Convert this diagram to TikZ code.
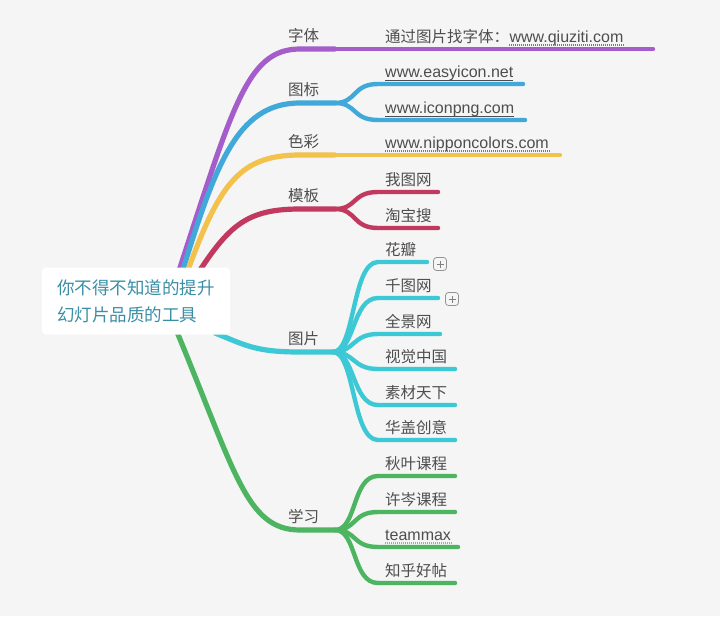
\documentclass[tikz,border=0pt]{standalone}
\usepackage{fontspec}
\setmainfont{Noto Sans CJK SC}
\newfontfamily\latinfont{Liberation Sans}
\definecolor{bgc}{HTML}{F4F5F4}
\definecolor{txt}{HTML}{4E4E4E}
\definecolor{roottxt}{HTML}{3A8FA6}
\definecolor{cpur}{HTML}{A45DCB}
\definecolor{cblu}{HTML}{41A9DA}
\definecolor{cyel}{HTML}{F2C24C}
\definecolor{cred}{HTML}{C1395F}
\definecolor{ccya}{HTML}{3CC8D4}
\definecolor{cgrn}{HTML}{4DB562}
\definecolor{ulred}{HTML}{B8625A}
\definecolor{ulyel}{HTML}{C9A64A}
\newcommand\mkid[5]{%
  \coordinate (#1s) at (378,#4);
  \coordinate (#1e) at (#5,#4);
  \draw[ch,#2] (#3) .. controls +(22,0) and +(-26,0) .. (#1s) -- (#1e);}
\begin{document}
\begin{tikzpicture}[x=1pt,y=-1pt,
  br/.style={line width=5.2pt,line cap=round},
  ch/.style={line width=4.4pt,line cap=round},
  lab/.style={anchor=base west,inner sep=0pt,font=\fontsize{15.5}{18}\selectfont,text=txt},
  url/.style={lab,font=\latinfont\fontsize{16}{18}\selectfont},
  ulsolid/.style={line width=0.9pt,txt},
  uldot/.style={line width=1.1pt,dash pattern=on 1pt off 1pt},
  plusbox/.style={draw=gray!85,line width=0.8pt,rounded corners=3pt,minimum size=13pt,inner sep=0pt,fill=bgc,
    path picture={\draw[gray,line width=0.8pt] ([xshift=-3.5pt]path picture bounding box.center) -- ([xshift=3.5pt]path picture bounding box.center)
      ([yshift=-3.5pt]path picture bounding box.center) -- ([yshift=3.5pt]path picture bounding box.center);}},
  rootbox/.style={fill=white,rounded corners=4pt,minimum width=188pt,minimum height=67pt,align=left,
    font=\fontsize{17.5}{27}\selectfont,text=roottxt}]
\fill[bgc] (0,0) rectangle (720,616);
\useasboundingbox (0,0) rectangle (720,616);

% origins and forks
\coordinate (oA) at (172,292); \coordinate (kA) at (300,49);  \coordinate (fA) at (335,49);
\coordinate (oB) at (176,292); \coordinate (kB) at (300,103); \coordinate (fB) at (335,103);
\coordinate (oC) at (180,292); \coordinate (kC) at (300,155); \coordinate (fC) at (335,155);
\coordinate (oD) at (184,295); \coordinate (kD) at (300,209); \coordinate (fD) at (335,209);
\coordinate (oE) at (215,333); \coordinate (kE) at (300,352); \coordinate (fE) at (333,352);
\coordinate (oF) at (172,320); \coordinate (kF) at (300,530); \coordinate (fF) at (335,530);

% level-1 branches
\draw[br,cpur] (oA) .. controls (232,110) and (245,49) .. (kA) -- (fA);
\draw[br,cblu] (oB) .. controls (214,168) and (235,103) .. (kB) -- (fB);
\draw[br,cyel] (oC) .. controls (217,188) and (235,155) .. (kC) -- (fC);
\draw[br,cred] (oD) .. controls (225,230) and (240,209) .. (kD) -- (fD);
\draw[br,ccya] (oE) .. controls (245,345) and (255,352) .. (kE) -- (fE);
\draw[br,cgrn] (oF) .. controls (235,470) and (245,530) .. (kF) -- (fF);

% children
\coordinate (a1e) at (653,49); \draw[ch,cpur] (fA) -- (a1e);
\mkid{b1}{cblu}{fB}{84}{523}
\mkid{b2}{cblu}{fB}{120}{525}
\coordinate (c1e) at (560,155); \draw[ch,cyel] (fC) -- (c1e);
\mkid{d1}{cred}{fD}{192}{438}
\mkid{d2}{cred}{fD}{228}{438}
\mkid{e1}{ccya}{fE}{262}{427}
\mkid{e2}{ccya}{fE}{298}{438}
\mkid{e3}{ccya}{fE}{334}{440}
\mkid{e4}{ccya}{fE}{369}{455}
\mkid{e5}{ccya}{fE}{405}{455}
\mkid{e6}{ccya}{fE}{440}{455}
\mkid{f1}{cgrn}{fF}{476}{455}
\mkid{f2}{cgrn}{fF}{512}{455}
\mkid{f3}{cgrn}{fF}{547}{458}
\mkid{f4}{cgrn}{fF}{583}{455}

% root
\node[rootbox] (root) at (136,301) {你不得不知道的提升\\幻灯片品质的工具};

% level-1 labels
\node[lab] (lA) at (288,41) {字体};
\node[lab] (lB) at (288,95.5) {图标};
\node[lab] (lC) at (288,147.5) {色彩};
\node[lab] (lD) at (288,201.5) {模板};
\node[lab] (lE) at (288,344.5) {图片};
\node[lab] (lF) at (288,522.5) {学习};

% child labels
\node[lab] (ta1) at (385,42) {通过图片找字体：};
\node[url] (ta1u) at (ta1.base east) {www.qiuziti.com};
\node[url] (tb1) at (385,77) {www.easyicon.net};
\node[url] (tb2) at (385,113) {www.iconpng.com};
\node[url] (tc1) at (385,148) {www.nipponcolors.com};
\node[lab] (td1) at (385,185) {我图网};
\node[lab] (td2) at (385,221) {淘宝搜};
\node[lab] (te1) at (385,255) {花瓣};
\node[lab] (te2) at (385,291) {千图网};
\node[lab] (te3) at (385,327) {全景网};
\node[lab] (te4) at (385,362) {视觉中国};
\node[lab] (te5) at (385,398) {素材天下};
\node[lab] (te6) at (385,433) {华盖创意};
\node[lab] (tf1) at (385,469) {秋叶课程};
\node[lab] (tf2) at (385,505) {许岑课程};
\node[url] (tf3) at (385,540) {teammax};
\node[lab] (tf4) at (385,576) {知乎好帖};

% underlines
\draw[uldot,ulred] ([yshift=-3pt]ta1u.base west) -- ([yshift=-3pt]ta1u.base east);
\draw[ulsolid] ([yshift=-3pt]tb1.base west) -- ([yshift=-3pt]tb1.base east);
\draw[ulsolid] ([yshift=-3pt]tb2.base west) -- ([yshift=-3pt]tb2.base east);
\draw[uldot,ulred] ([yshift=-3pt]tc1.base west) -- ([yshift=-3pt]tc1.base east);
\draw[uldot,ulyel] ([yshift=-3pt]tf3.base west) -- ([yshift=-3pt]tf3.base east);

% collapse markers
\node[plusbox] (p1) at (440,264) {};
\node[plusbox] (p2) at (452,299) {};
\end{tikzpicture}
\end{document}
